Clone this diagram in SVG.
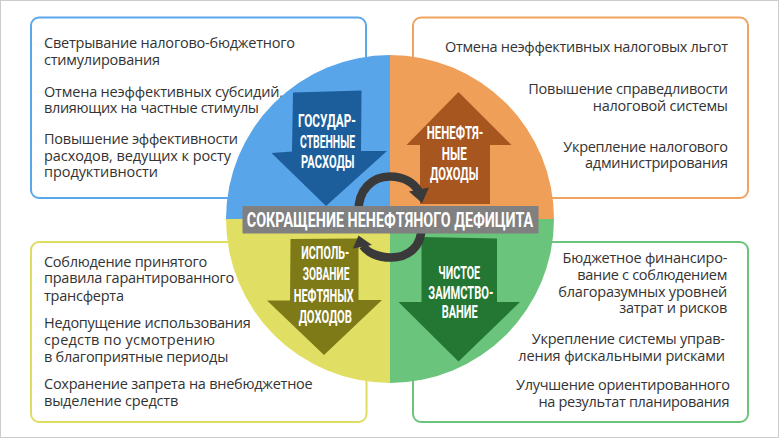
<svg xmlns="http://www.w3.org/2000/svg" width="780" height="439" viewBox="0 0 780 439">
<style>
.frame{fill:#ffffff;stroke:#cccccc;stroke-width:1}
.box{fill:#ffffff;stroke-width:2}
.t{font-family:"Open Sans","Noto Sans","Liberation Sans",sans-serif;font-size:14.5px;fill:#333333}
.r{text-anchor:end}
.lab{font-family:"Roboto","Liberation Sans",sans-serif;font-weight:bold;font-size:12.5px;fill:#ffffff;text-anchor:middle}
.title{font-family:"Roboto","Liberation Sans",sans-serif;font-weight:bold;font-size:13.5px;fill:#ffffff;text-anchor:middle}
.cyc{fill:none;stroke:#3a3a3a;stroke-width:8.5}
.cyh{fill:#3a3a3a}
</style>
<rect class="frame" x="0.5" y="0.5" width="778" height="437"/>

<g id="box-expenses">
<rect class="box" x="31" y="17.5" width="335" height="180.5" rx="8" stroke="#5aa7ec"/>
<text class="t" x="44" y="48.3" textLength="251">Светрывание налогово-бюджетного</text>
<text class="t" x="44" y="65" textLength="116">стимулирования</text>
<text class="t" x="44" y="96.5" textLength="239">Отмена неэффективных субсидий,</text>
<text class="t" x="44" y="113" textLength="215">влияющих на частные стимулы</text>
<text class="t" x="44" y="144" textLength="194">Повышение эффективности</text>
<text class="t" x="44" y="160.7" textLength="187">расходов, ведущих к росту</text>
<text class="t" x="44" y="177.3" textLength="114">продуктивности</text>
</g>

<g id="box-nonoil">
<rect class="box" x="413" y="17.5" width="335" height="180.5" rx="8" stroke="#f0a35e"/>
<text class="t r" x="728" y="51.7" textLength="283">Отмена неэффективных налоговых льгот</text>
<text class="t r" x="728" y="94.3" textLength="199.7">Повышение справедливости</text>
<text class="t r" x="728" y="111" textLength="135.3">налоговой системы</text>
<text class="t r" x="728" y="151.7" textLength="164.7">Укрепление налогового</text>
<text class="t r" x="728" y="168.3" textLength="143">администрирования</text>
</g>

<g id="box-oil">
<rect class="box" x="31" y="242" width="335.5" height="180" rx="8" stroke="#dfdc62"/>
<text class="t" x="44" y="266.7" textLength="163.3">Соблюдение принятого</text>
<text class="t" x="44" y="283.3" textLength="190.3">правила гарантированного</text>
<text class="t" x="44" y="300.5" textLength="80">трансферта</text>
<text class="t" x="44" y="328.3" textLength="206.7">Недопущение использования</text>
<text class="t" x="44" y="345" textLength="171">средств по усмотрению</text>
<text class="t" x="44" y="361.7" textLength="184.3">в благоприятные периоды</text>
<text class="t" x="44" y="389.3" textLength="268.7">Сохранение запрета на внебюджетное</text>
<text class="t" x="44" y="406" textLength="134.3">выделение средств</text>
</g>

<g id="box-borrowing">
<rect class="box" x="413" y="242" width="335" height="180" rx="8" stroke="#6cc47c"/>
<text class="t r" x="727.3" y="263.3" textLength="164.7">Бюджетное финансиро-</text>
<text class="t r" x="727.3" y="280" textLength="150">вание с соблюдением</text>
<text class="t r" x="727.3" y="296.7" textLength="169">благоразумных уровней</text>
<text class="t r" x="727.3" y="313.3" textLength="108">затрат и рисков</text>
<text class="t r" x="725" y="344" textLength="193.3">Укрепление системы управ-</text>
<text class="t r" x="725" y="360.7" textLength="206.7">ления фискальными рисками</text>
<text class="t r" x="730" y="390" textLength="214">Улучшение ориентированного</text>
<text class="t r" x="729.5" y="406.7" textLength="191">на результат планирования</text>
</g>

<g id="circle">
<path d="M390,219 L226,219 A164,164 0 0 1 390,55 Z" fill="#59a5ea"/>
<path d="M390,219 L390,55 A164,164 0 0 1 554,219 Z" fill="#f09f58"/>
<path d="M390,219 L554,219 A164,164 0 0 1 390,383 Z" fill="#6bc47b"/>
<path d="M390,219 L390,383 A164,164 0 0 1 226,219 Z" fill="#e1df63"/>
</g>

<g id="node-expenses">
<polygon points="293,92.5 361.5,90.5 361,151 387,151 326,206 271.5,153 292,151.5" fill="#1c5e9b"/>
<text class="lab" transform="translate(327,126.7) scale(1,1.5)" textLength="58" lengthAdjust="spacingAndGlyphs">ГОСУДАР-</text>
<text class="lab" transform="translate(327.5,148.3) scale(1,1.5)" textLength="55" lengthAdjust="spacingAndGlyphs">СТВЕННЫЕ</text>
<text class="lab" transform="translate(327.7,167.7) scale(1,1.5)" textLength="53.3" lengthAdjust="spacingAndGlyphs">РАСХОДЫ</text>
</g>

<g id="node-nonoil">
<polygon points="458.5,92 511.5,145 490,145 490,204 420,204 420,145 406.5,145" fill="#a85620"/>
<text class="lab" transform="translate(455,139) scale(1,1.5)" textLength="56.6" lengthAdjust="spacingAndGlyphs">НЕНЕФТЯ-</text>
<text class="lab" transform="translate(454.2,160) scale(1,1.5)" textLength="25" lengthAdjust="spacingAndGlyphs">НЫЕ</text>
<text class="lab" transform="translate(454.2,180) scale(1,1.5)" textLength="48.3" lengthAdjust="spacingAndGlyphs">ДОХОДЫ</text>
</g>

<g id="node-oil">
<polygon points="290.5,239 358.5,238.5 358.5,300 382,300 324,355 267,300.5 290,300.5" fill="#7f7a18"/>
<text class="lab" transform="translate(325.3,258.7) scale(1,1.5)" textLength="48" lengthAdjust="spacingAndGlyphs">ИСПОЛЬ-</text>
<text class="lab" transform="translate(326,280.3) scale(1,1.5)" textLength="46.7" lengthAdjust="spacingAndGlyphs">ЗОВАНИЕ</text>
<text class="lab" transform="translate(323.7,302) scale(1,1.5)" textLength="60" lengthAdjust="spacingAndGlyphs">НЕФТЯНЫХ</text>
<text class="lab" transform="translate(325.3,322.7) scale(1,1.5)" textLength="53.3" lengthAdjust="spacingAndGlyphs">ДОХОДОВ</text>
</g>

<g id="node-borrowing">
<polygon points="421.5,237 497,238.5 497,302 520,302 458.5,361.5 398.5,302 421.5,302" fill="#237732"/>
<text class="lab" transform="translate(459.2,278.7) scale(1,1.5)" textLength="41.7" lengthAdjust="spacingAndGlyphs">ЧИСТОЕ</text>
<text class="lab" transform="translate(460.8,298.7) scale(1,1.5)" textLength="65" lengthAdjust="spacingAndGlyphs">ЗАИМСТВО-</text>
<text class="lab" transform="translate(459.7,318) scale(1,1.5)" textLength="36" lengthAdjust="spacingAndGlyphs">ВАНИЕ</text>
</g>

<g id="connectors">
<path class="cyc" d="M358.5,212 C358,190 372,176.5 390,176.5 C404,176.5 414,183 418.5,191"/>
<polygon class="cyh" points="409,191.5 429,187.5 422,203"/>
<path class="cyc" d="M421.5,226 C422,247 408,257.5 391,257.5 C377,257.5 367,252 363,246"/>
<polygon class="cyh" points="353,248.5 372,245 358.5,235.5"/>
</g>

<g id="node-title">
<rect x="242.5" y="206" width="296" height="27.5" fill="#808080"/>
<text class="title" transform="translate(390,226.7) scale(1,1.45)" textLength="286.5" lengthAdjust="spacingAndGlyphs">СОКРАЩЕНИЕ НЕНЕФТЯНОГО ДЕФИЦИТА</text>
</g>
</svg>
